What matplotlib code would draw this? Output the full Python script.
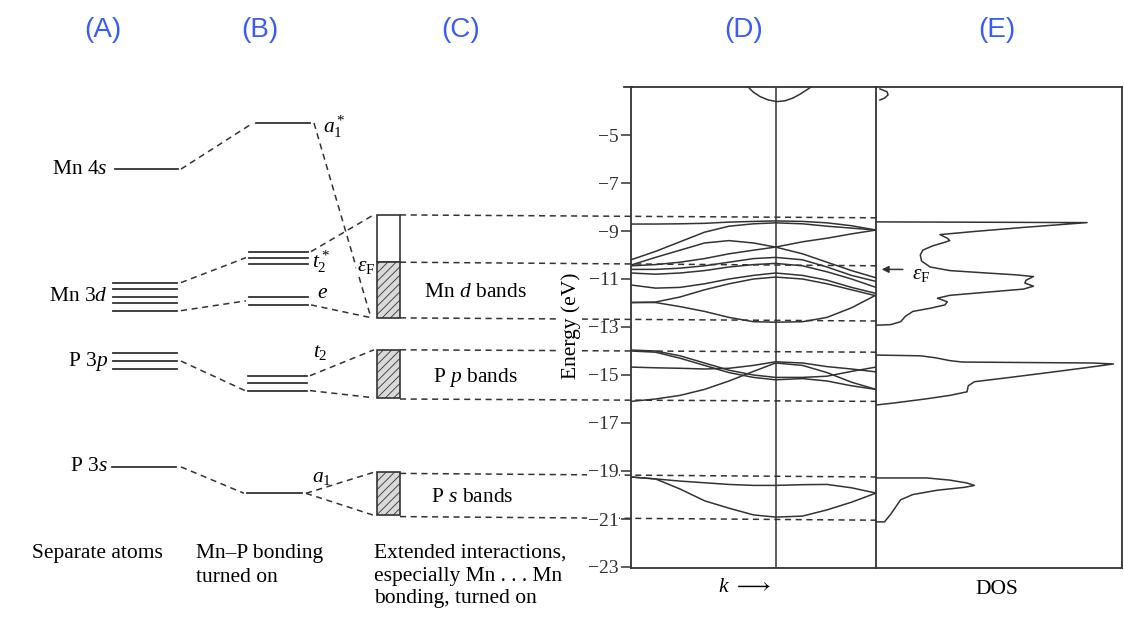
import numpy as np
import matplotlib.pyplot as plt
from matplotlib.patches import Rectangle

plt.rcParams['font.family'] = ['Liberation Serif', 'DejaVu Serif']
plt.rcParams['mathtext.fontset'] = 'custom'
plt.rcParams['mathtext.rm'] = 'Liberation Serif'
plt.rcParams['mathtext.it'] = 'Liberation Serif:italic'
plt.rcParams['hatch.linewidth'] = 0.6

ink = '#333333'
blue = '#3b5cf6'
dash = (0, (4, 3))

# ---- (A) separate atoms, (B) Mn-P bonding: level energies (eV)
mn4s = [-6.42]
mn3d = [-11.15, -11.43, -11.74, -12.01, -12.32]
p3p = [-14.08, -14.42, -14.76]
p3s = [-18.83]
a1_star = [-4.5]
t2_star = [-9.86, -10.11, -10.39]
e_lev = [-11.74, -12.08]
t2_lev = [-15.03, -15.32, -15.65]
a1_lev = [-19.93]

# ---- (C) band blocks (bottom, top) and Fermi level
d_band = (-12.62, -8.32)
p_band = (-15.95, -13.95)
s_band = (-20.85, -19.05)
e_fermi = -10.3
# dashed band-edge guides: value at block, value at right edge of (D)
edges_left = [-8.33, -10.3, -12.62, -13.95, -16.0, -19.1, -20.9]
edges_right = [-8.45, -10.45, -12.75, -14.05, -16.1, -19.25, -21.05]

# ---- (D) band structure, energies at these k points
k_pts = [0, 0.1, 0.2, 0.3, 0.4, 0.5, 0.59, 0.7, 0.8, 0.9, 1.0]
d_bands = [
    [-8.71, -8.71, -8.70, -8.68, -8.63, -8.60, -8.58, -8.60, -8.66, -8.78, -8.96],
    [-10.2, -9.85, -9.45, -9.05, -8.80, -8.70, -8.66, -8.70, -8.80, -8.88, -8.96],
    [-10.42, -10.1, -9.80, -9.50, -9.40, -9.50, -9.67, -9.95, -10.3, -10.65, -10.95],
    [-10.45, -10.4, -10.3, -10.15, -9.95, -9.80, -9.67, -9.45, -9.30, -9.12, -8.96],
    [-10.6, -10.6, -10.55, -10.45, -10.3, -10.15, -10.1, -10.2, -10.5, -10.85, -11.1],
    [-10.75, -10.8, -10.75, -10.65, -10.5, -10.4, -10.35, -10.45, -10.7, -11.0, -11.35],
    [-11.25, -11.38, -11.35, -11.2, -11.0, -10.85, -10.75, -10.85, -11.05, -11.35, -11.6],
    [-11.98, -11.96, -11.75, -11.45, -11.2, -11.0, -10.92, -11.0, -11.2, -11.45, -11.7],
    [-11.98, -11.98, -12.15, -12.35, -12.6, -12.78, -12.8, -12.78, -12.6, -12.2, -11.67],
]
p_bands = [
    [-13.96, -14.0, -14.2, -14.5, -14.8, -15.0, -15.1, -15.1, -15.05, -14.85, -14.67],
    [-14.0, -14.05, -14.3, -14.6, -14.9, -15.1, -15.2, -15.15, -15.25, -15.45, -15.6],
    [-14.67, -14.7, -14.72, -14.75, -14.72, -14.6, -14.45, -14.5, -14.65, -14.75, -14.87],
    [-16.1, -16.0, -15.85, -15.6, -15.25, -14.85, -14.5, -14.6, -14.9, -15.3, -15.6],
]
s_bands = [
    [-19.25, -19.33, -19.42, -19.49, -19.56, -19.6, -19.6, -19.57, -19.56, -19.7, -19.92],
    [-19.25, -19.33, -19.75, -20.24, -20.55, -20.83, -20.92, -20.88, -20.62, -20.3, -19.92],
]
top_k = [0.478, 0.50, 0.527, 0.56, 0.596, 0.63, 0.661, 0.69, 0.735]
top_E = [-3.0, -3.22, -3.4, -3.54, -3.61, -3.57, -3.46, -3.3, -3.0]

# ---- (E) density of states
dos_top = [0.016, 0.045, 0.049, 0.035, 0.016]
dos_top_E = [-3.08, -3.2, -3.33, -3.46, -3.54]
dos_d = [0, 0.858, 0.6, 0.4, 0.26, 0.29, 0.30, 0.27, 0.23, 0.19, 0.18, 0.185, 0.22,
         0.3, 0.45, 0.573, 0.64, 0.61, 0.605, 0.64, 0.6, 0.45, 0.3, 0.25, 0.29, 0.28,
         0.22, 0.15, 0.12, 0.10, 0.06, 0.016, 0]
dos_d_E = [-8.62, -8.65, -8.85, -9.02, -9.15, -9.3, -9.4, -9.5, -9.62, -9.8, -10.0,
           -10.25, -10.5, -10.65, -10.75, -10.83, -10.9, -11.05, -11.17, -11.3, -11.42,
           -11.55, -11.68, -11.8, -11.95, -12.08, -12.22, -12.35, -12.55, -12.78, -12.9,
           -12.92, -12.92]
dos_p = [0, 0.18, 0.24, 0.3, 0.35, 0.6, 0.88, 0.965, 0.85, 0.7, 0.545, 0.4, 0.375,
         0.37, 0.3, 0.2, 0.07, 0]
dos_p_E = [-14.17, -14.2, -14.28, -14.4, -14.46, -14.48, -14.5, -14.54, -14.7, -14.9,
           -15.1, -15.28, -15.45, -15.7, -15.85, -16.0, -16.17, -16.25]
dos_s = [0, 0.207, 0.3, 0.37, 0.4, 0.36, 0.25, 0.15, 0.1, 0.08, 0.06, 0.04, 0.035, 0]
dos_s_E = [-19.29, -19.29, -19.38, -19.5, -19.6, -19.68, -19.8, -19.98, -20.2, -20.5,
           -20.8, -21.05, -21.12, -21.12]

panel_tags = ['(A)', '(B)', '(C)', '(D)', '(E)']


def ey(py):
    # page pixel row -> energy axis value
    return -5 - (py - 135) / 24


fig = plt.figure(figsize=(11.24, 6.18), dpi=100)
ax = fig.add_axes([0, 0, 1, 1])
ax.set_xlim(0, 1124)
ax.set_ylim(ey(618), ey(0))
ax.axis('off')


def levels(x0, x1, energies):
    for E in energies:
        ax.plot([x0, x1], [E, E], color=ink, lw=1.3)


def link(x0, E0, x1, E1):
    ax.plot([x0, x1], [E0, E1], color=ink, lw=1.1, ls=dash)


levels(115, 178, mn4s)
levels(113, 177, mn3d)
levels(113, 177, p3p)
levels(112, 176, p3s)
levels(256, 310, a1_star)
levels(249, 308, t2_star)
levels(249, 308, e_lev)
levels(248, 307, t2_lev)
levels(247, 302, a1_lev)

link(181, mn4s[0], 253, a1_star[0])
link(181, mn3d[0], 246, t2_star[1])
link(181, mn3d[-1], 246, np.mean(e_lev))
link(181, np.mean(p3p), 245, t2_lev[-1])
link(181, p3s[0], 244, a1_lev[0])
link(314, a1_star[0], 371, d_band[0])
link(311, t2_star[0], 374, d_band[1])
link(311, e_lev[-1], 372, d_band[0])
link(310, t2_lev[0], 374, p_band[1])
link(310, t2_lev[-1], 374, p_band[0])
link(306, a1_lev[0], 374, s_band[1])
link(306, a1_lev[0], 374, s_band[0])

bx0, bw = 377, 23
ax.add_patch(Rectangle((bx0, e_fermi), bw, d_band[1] - e_fermi, fc='white', ec=ink, lw=1.2))
for lo, hi in [(d_band[0], e_fermi), p_band, s_band]:
    ax.add_patch(Rectangle((bx0, lo), bw, hi - lo, fc='#d9d9d9', ec=ink, lw=1.2,
                           hatch='////'))
for El, Er in zip(edges_left, edges_right):
    ax.plot([bx0 + bw, 877], [El, Er], color=ink, lw=1.1, ls=dash)

fs = 15.5
for name, E in [('Mn 4$s$', mn4s[0]), ('Mn 3$d$', np.mean(mn3d)),
                ('P 3$p$', np.mean(p3p)), ('P 3$s$', p3s[0])]:
    ax.text(108, E, name, ha='right', va='center', fontsize=fs)
ax.text(323, ey(127), '$a_1^*$', ha='left', va='center', fontsize=fs)
ax.text(312, ey(262), '$t_2^*$', ha='left', va='center', fontsize=fs)
ax.text(317, ey(293), '$e$', ha='left', va='center', fontsize=fs)
ax.text(313, ey(352), '$t_2$', ha='left', va='center', fontsize=fs)
ax.text(312, ey(477), '$a_1$', ha='left', va='center', fontsize=fs)
ax.text(366, ey(266), r'$\epsilon_{\rm F}$', ha='center', va='center', fontsize=fs,
        bbox=dict(fc='white', ec='none', pad=0.5), zorder=5)

ax.text(475, ey(292), 'Mn $d$ bands', ha='center', va='center', fontsize=fs)
ax.text(475, ey(377), 'P $p$ bands', ha='center', va='center', fontsize=fs)
ax.text(472, ey(497), 'P $s$ bands', ha='center', va='center', fontsize=fs)
ax.text(571, ey(326), 'Energy (eV)', rotation=90, ha='center', va='center', fontsize=fs,
        bbox=dict(fc='white', ec='none', pad=1), zorder=5)

ax.text(97, ey(553), 'Separate atoms', ha='center', va='center', fontsize=fs)
ax.text(196, ey(553), 'Mn\u2013P bonding', ha='left', va='center', fontsize=fs)
ax.text(196, ey(577), 'turned on', ha='left', va='center', fontsize=fs)
ax.text(374, ey(553), 'Extended interactions,', ha='left', va='center', fontsize=fs)
ax.text(374, ey(576), 'especially Mn . . . Mn', ha='left', va='center', fontsize=fs)
ax.text(374, ey(599), 'bonding, turned on', ha='left', va='center', fontsize=fs)
ax.text(744, ey(588), r'$k$ $\longrightarrow$', ha='center', va='center', fontsize=fs)
ax.text(997, ey(590), 'DOS', ha='center', va='center', fontsize=fs)

for tag, x in zip(panel_tags, [103, 260, 461, 744, 997]):
    ax.text(x, ey(30), tag, ha='center', va='center', fontsize=20, color=blue,
            family='Liberation Sans')

# ---- (D) band structure panel
top_px, bot_px = 87, 568
ax.plot([624, 632], [ey(top_px), ey(top_px)], color=ink, lw=1.3)
ax_d = fig.add_axes([631 / 1124, (618 - bot_px) / 618, 245 / 1124, (bot_px - top_px) / 618])
ax_d.set_facecolor('none')
ax_d.set_xlim(0, 1)
ax_d.set_ylim(ey(bot_px), ey(top_px))
ax_d.set_xticks([])
ax_d.set_yticks(np.arange(-23, -4, 2))
ax_d.tick_params(axis='y', direction='out', length=7, width=1.1, pad=2,
                 labelsize=14, color=ink, labelcolor=ink)
for t in ax_d.get_yticklabels():
    t.set_bbox(dict(fc='white', ec='none', pad=0.5))
for s in ax_d.spines.values():
    s.set_color(ink)
    s.set_linewidth(1.3)
ax_d.axvline(0.59, color=ink, lw=1.1)
for band in d_bands + p_bands + s_bands:
    ax_d.plot(k_pts, band, color=ink, lw=1.1)
ax_d.plot(top_k, top_E, color=ink, lw=1.1, clip_on=False)

# ---- (E) DOS panel
ax_e = fig.add_axes([876 / 1124, (618 - bot_px) / 618, 246 / 1124, (bot_px - top_px) / 618])
ax_e.set_facecolor('none')
ax_e.set_xlim(0, 1)
ax_e.set_ylim(ey(bot_px), ey(top_px))
ax_e.set_xticks([])
ax_e.set_yticks([])
ax_e.spines['left'].set_visible(False)
for s in ['top', 'bottom', 'right']:
    ax_e.spines[s].set_color(ink)
    ax_e.spines[s].set_linewidth(1.3)
for x, y in [(dos_top, dos_top_E), (dos_d, dos_d_E), (dos_p, dos_p_E), (dos_s, dos_s_E)]:
    ax_e.plot(x, y, color=ink, lw=1.1)
ax_e.annotate('', xy=(0.012, -10.6), xytext=(0.12, -10.6),
              arrowprops=dict(arrowstyle='-|>', color=ink, lw=1.1, mutation_scale=10))
ax_e.text(0.145, -10.8, r'$\epsilon_{\rm F}$', ha='left', va='center', fontsize=fs)

fig.savefig('out.png', dpi=100, facecolor='white')
